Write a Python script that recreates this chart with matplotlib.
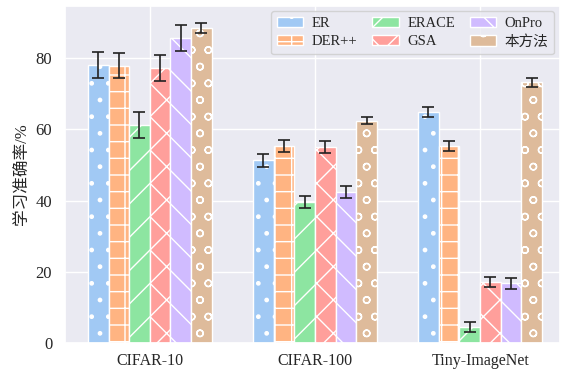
import numpy as np
import seaborn as sns
import matplotlib.pyplot as plt

sns.set_theme(style='darkgrid')
plt.rcParams['font.family'] = ['Liberation Serif', 'Noto Sans CJK SC']
plt.rcParams['hatch.color'] = 'white'
plt.rcParams['hatch.linewidth'] = 1.0

datasets = ['CIFAR-10', 'CIFAR-100', 'Tiny-ImageNet']
methods = ['ER', 'DER++', 'ERACE', 'GSA', 'OnPro', '本方法']
hatches = ['.', '+', '/', 'x', '\\', 'o']
means = [
    [78.0, 51.3, 64.8],
    [77.8, 55.2, 55.2],
    [61.2, 39.7, 4.6],
    [77.2, 54.9, 17.2],
    [85.5, 42.4, 16.8],
    [88.3, 62.4, 73.1],
]
errs = [
    [3.6, 1.8, 1.4],
    [3.6, 1.7, 1.4],
    [3.6, 1.7, 1.5],
    [3.6, 1.7, 1.5],
    [3.6, 1.7, 1.5],
    [1.4, 0.9, 1.2],
]

colors = sns.color_palette('pastel')[:6]

fig, ax = plt.subplots(figsize=(5.63, 3.70), dpi=100)
x = np.arange(len(datasets))
w = 0.125
for i, m in enumerate(methods):
    pos = x + (i - 2.5) * w
    ax.bar(pos, means[i], w, yerr=errs[i], label=m, color=colors[i],
           edgecolor='white', hatch=hatches[i], capsize=4,
           error_kw=dict(ecolor='#222222', elinewidth=1.2, capthick=1.2))

ax.set_xticks(x)
ax.set_xticklabels(datasets, fontsize=11.5)
ax.tick_params(axis='x', pad=1)
ax.tick_params(axis='y', labelsize=12, pad=3)
ax.set_ylabel('学习准确率/%', fontsize=12, labelpad=4)
ax.set_xlim(-0.515, 2.485)
ax.set_ylim(0, 94.6)
ax.set_yticks([0, 20, 40, 60, 80])
ax.legend(ncol=3, loc='upper right', fontsize=10.5, columnspacing=1.0,
          handlelength=1.8, handletextpad=0.6, labelspacing=0.3,
          borderaxespad=0.4)
plt.subplots_adjust(left=0.115, right=0.995, top=0.985, bottom=0.072)
plt.savefig('out.png')
